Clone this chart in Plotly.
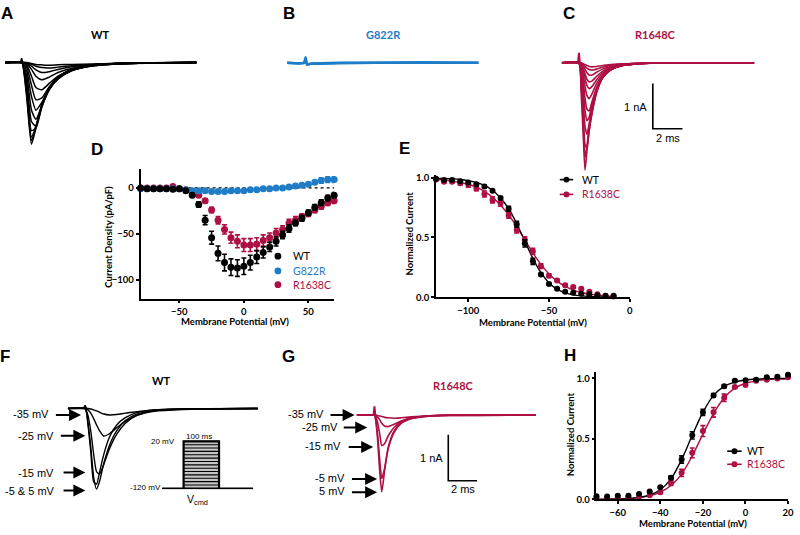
import plotly.graph_objects as go

# ======================= DATA =======================
# Panel A (WT current sweeps, nA vs ms)
a_time_ms = [0, 1.15, 1.3, 1.5, 1.8, 2.1, 2.5, 3.0, 3.6, 4.5, 6.0, 8.5, 13.0]
a_sweeps_nA = [
    [0, 0, -0.25, -0.85, -1.80, -1.45, -0.95, -0.55, -0.32, -0.15, -0.05, -0.01, 0],
    [0, 0, -0.22, -0.78, -1.72, -1.42, -0.94, -0.55, -0.32, -0.15, -0.05, -0.01, 0],
    [0, 0, -0.19, -0.70, -1.64, -1.40, -0.94, -0.56, -0.33, -0.16, -0.05, -0.01, 0],
    [0, 0, -0.16, -0.58, -1.50, -1.45, -0.98, -0.58, -0.34, -0.16, -0.06, -0.01, 0],
    [0, 0, -0.12, -0.45, -1.30, -1.40, -0.98, -0.60, -0.35, -0.17, -0.06, -0.01, 0],
    [0, 0, -0.09, -0.33, -1.05, -1.25, -0.95, -0.60, -0.36, -0.18, -0.06, -0.01, 0],
    [0, 0, -0.06, -0.21, -0.75, -1.05, -0.88, -0.58, -0.36, -0.18, -0.07, -0.02, 0],
    [0, 0, -0.04, -0.12, -0.50, -0.82, -0.78, -0.54, -0.34, -0.18, -0.07, -0.02, 0],
    [0, 0, -0.02, -0.07, -0.30, -0.55, -0.60, -0.46, -0.30, -0.16, -0.07, -0.02, 0],
    [0, 0, -0.01, -0.04, -0.15, -0.30, -0.38, -0.32, -0.22, -0.13, -0.06, -0.02, 0],
    [0, 0, 0, -0.02, -0.08, -0.16, -0.22, -0.20, -0.15, -0.09, -0.05, -0.02, 0],
    [0, 0, 0, -0.01, -0.04, -0.08, -0.11, -0.12, -0.10, -0.07, -0.04, -0.01, 0],
    [0, 0, 0, 0, -0.02, -0.04, -0.05, -0.06, -0.05, -0.04, -0.03, -0.01, 0],
]
a_artifact_ms = [1.05, 1.13, 1.21]
a_artifact_nA = [0, 0.10, 0]

# Panel B (G822R sweeps)
b_time_ms = [0, 1.15, 1.25, 1.35, 1.6, 2.2, 3.5, 6.0, 9.0, 13.0]
b_sweeps_nA = [
    [0, 0, 0.12, -0.04, -0.02, -0.01, 0, 0, 0, 0],
    [0, 0, 0.07, -0.03, -0.02, -0.02, -0.01, 0, 0.01, 0],
]

# Panel C (R1648C sweeps)
c_time_ms = [0, 1.15, 1.3, 1.45, 1.57, 1.7, 1.85, 2.05, 2.35, 2.75, 3.3, 4.1, 5.2, 7.0, 13.0]
c_sweeps_nA = [
    [0, 0, -0.60, -1.60, -2.37, -1.95, -1.50, -1.10, -0.65, -0.33, -0.15, -0.06, -0.02, 0, 0],
    [0, 0, -0.45, -1.35, -2.09, -1.85, -1.42, -1.05, -0.63, -0.33, -0.15, -0.06, -0.02, 0, 0],
    [0, 0, -0.35, -1.10, -1.80, -1.88, -1.50, -1.10, -0.66, -0.34, -0.16, -0.06, -0.02, 0, 0],
    [0, 0, -0.25, -0.85, -1.40, -1.58, -1.35, -1.00, -0.62, -0.33, -0.16, -0.06, -0.02, 0, 0],
    [0, 0, -0.18, -0.60, -1.05, -1.28, -1.20, -0.92, -0.58, -0.32, -0.15, -0.06, -0.02, 0, 0],
    [0, 0, -0.12, -0.42, -0.78, -1.02, -1.06, -0.85, -0.55, -0.31, -0.15, -0.06, -0.02, 0, 0],
    [0, 0, -0.08, -0.28, -0.52, -0.72, -0.79, -0.68, -0.46, -0.27, -0.13, -0.05, -0.02, 0, 0],
    [0, 0, -0.05, -0.18, -0.34, -0.50, -0.57, -0.52, -0.38, -0.23, -0.12, -0.05, -0.02, 0, 0],
    [0, 0, -0.03, -0.12, -0.24, -0.36, -0.42, -0.40, -0.30, -0.19, -0.10, -0.04, -0.01, 0, 0],
    [0, 0, -0.02, -0.07, -0.14, -0.22, -0.27, -0.27, -0.21, -0.14, -0.08, -0.03, -0.01, 0, 0],
    [0, 0, -0.01, -0.04, -0.08, -0.12, -0.15, -0.16, -0.14, -0.10, -0.06, -0.03, -0.01, 0, 0],
    [0, 0, 0, -0.02, -0.04, -0.06, -0.08, -0.09, -0.08, -0.06, -0.04, -0.02, -0.01, 0, 0],
]
c_artifact_ms = [1.10, 1.16, 1.22]
c_artifact_nA = [0, 0.22, 0]

scalebar_nA = 1
scalebar_ms = 2

# Panel D: I-V relationship (pA/pF)
d_voltage_mV = [-80, -75, -70, -65, -60, -55, -50, -45, -40, -35, -30, -25, -20, -15, -10, -5,
                0, 5, 10, 15, 20, 25, 30, 35, 40, 45, 50, 55, 60, 65, 70]
d_wt = [0, -1, -1, -1, -1, -1.5, -1, -3, -8, -18, -35, -54, -71, -81, -86, -87,
        -85, -81, -75, -70, -64, -58, -51, -44, -38, -33, -27, -21, -16, -11, -8]
d_wt_sem = [0, 0, 0, 0, 0, 0, 0, 1, 2, 3, 5, 7, 8, 9, 9, 9,
            9, 8, 7, 6, 5, 5, 4, 4, 3, 3, 3, 3, 3, 3, 3]
d_g822r = [-1, -1, -1, -1, -1, -1, -1, -2, -3, -3, -3, -4, -4, -4, -3, -3,
           -3, -2, -2, -1, -1, 0, 0, 1, 2, 3, 4, 6, 8, 9, 9]
d_g822r_sem = [0, 0, 0, 0, 0, 0, 0, 0, 0, 0, 0, 0, 0, 0, 0, 0,
               0, 0, 0, 0, 0, 0, 0, 0, 1, 1, 1, 2, 3, 3, 3]
d_r1638c = [0, 0, 0, 0, 0, 1.5, -1, -2, -4, -8, -14, -24, -35, -45, -54, -58,
            -62, -62, -61, -57, -54, -49, -45, -38, -35, -31, -28, -24, -20, -16, -14]
d_r1638c_sem = [0, 0, 0, 0, 0, 0, 0, 0, 1, 2, 2, 3, 4, 5, 6, 7,
                7, 7, 7, 6, 5, 5, 4, 4, 4, 3, 3, 3, 3, 3, 3]

# Panel E: steady-state inactivation
e_voltage_mV = [-120, -115, -110, -105, -100, -95, -90, -85, -80, -75, -70, -65, -60, -55,
                -50, -45, -40, -35, -30, -25, -20, -15, -10]
e_wt = [0.99, 0.98, 0.98, 0.97, 0.96, 0.945, 0.925, 0.89, 0.83, 0.74, 0.61, 0.45, 0.30, 0.19,
        0.11, 0.07, 0.045, 0.037, 0.03, 0.025, 0.016, 0.013, 0.012]
e_wt_sem = [0.005, 0.005, 0.005, 0.005, 0.005, 0.01, 0.01, 0.01, 0.01, 0.02, 0.025, 0.03, 0.025, 0.01,
            0.01, 0.005, 0.005, 0.005, 0.005, 0.005, 0.005, 0.005, 0.005]
e_wt_fit = [0.995, 0.993, 0.99, 0.985, 0.975, 0.96, 0.935, 0.895, 0.83, 0.74, 0.615, 0.47, 0.325, 0.205,
            0.12, 0.068, 0.037, 0.02, 0.011, 0.006, 0.003, 0.002, 0.001]
e_r1638c = [0.985, 0.965, 0.965, 0.953, 0.94, 0.91, 0.863, 0.814, 0.787, 0.686, 0.563, 0.48, 0.385, 0.26,
            0.18, 0.14, 0.10, 0.085, 0.07, 0.045, 0.025, 0.01, 0.006]
e_r1638c_sem = [0.01, 0.01, 0.01, 0.015, 0.02, 0.02, 0.025, 0.025, 0.025, 0.025, 0.025, 0.025, 0.025, 0.02,
                0.015, 0.01, 0.01, 0.01, 0.01, 0.005, 0.005, 0.005, 0.005]
e_r1638c_fit = [0.985, 0.98, 0.97, 0.96, 0.945, 0.92, 0.885, 0.835, 0.77, 0.69, 0.59, 0.48, 0.37, 0.275,
                0.195, 0.135, 0.09, 0.06, 0.04, 0.026, 0.017, 0.011, 0.007]

# Panel F: WT example sweeps
f_time_ms = [0, 1.2, 1.4, 1.6, 1.8, 2.0, 2.2, 2.5, 2.9, 3.4, 4.0, 4.8, 6.0, 8.0, 13.2]
f_sweep_labels = ["-35 mV", "-25 mV", "-15 mV", "-5 & 5 mV"]
f_sweeps_nA = [
    [0, 0, 0, -0.01, -0.03, -0.05, -0.08, -0.12, -0.14, -0.13, -0.10, -0.07, -0.03, -0.01, 0],
    [0, 0, -0.03, -0.10, -0.22, -0.36, -0.48, -0.60, -0.55, -0.42, -0.28, -0.15, -0.06, -0.02, 0],
    [0, 0, -0.15, -0.50, -1.00, -1.38, -1.43, -1.22, -0.88, -0.56, -0.32, -0.15, -0.05, -0.01, 0],
    [0, 0, -0.30, -0.85, -1.50, -1.76, -1.60, -1.20, -0.80, -0.48, -0.26, -0.12, -0.04, -0.01, 0],
    [0, 0, -0.35, -0.95, -1.60, -1.65, -1.40, -1.00, -0.62, -0.36, -0.20, -0.09, -0.03, -0.01, 0],
]
f_artifact_ms = [1.10, 1.20, 1.30]
f_artifact_nA = [0, 0.07, 0]

# Voltage protocol inset (F)
protocol_hold_mV = -120
protocol_levels_mV = [-110, -100, -90, -80, -70, -60, -50, -40, -30, -20, -10, 0, 10, 20]
protocol_step_ms = 100
protocol_start_ms = -61
protocol_end_ms = 196

# Panel G: R1648C example sweeps
g_time_ms = [0, 1.15, 1.24, 1.32, 1.45, 1.6, 1.75, 1.95, 2.2, 2.6, 3.1, 3.8, 4.8, 6.5, 12.5]
g_sweep_labels = ["-35 mV", "-25 mV", "-15 mV", "-5 mV", "5 mV"]
g_sweeps_nA = [
    [0, 0, 0, 0, -0.01, -0.02, -0.03, -0.05, -0.06, -0.07, -0.06, -0.04, -0.02, -0.01, 0],
    [0, 0, 0, -0.01, -0.04, -0.10, -0.18, -0.24, -0.25, -0.20, -0.13, -0.07, -0.03, -0.01, 0],
    [0, 0, 0, -0.03, -0.15, -0.40, -0.66, -0.62, -0.45, -0.27, -0.14, -0.06, -0.02, 0, 0],
    [0, 0, 0, -0.08, -0.40, -0.95, -1.38, -1.15, -0.72, -0.38, -0.18, -0.08, -0.03, 0, 0],
    [0, 0, 0, -0.10, -0.50, -1.20, -1.67, -1.20, -0.70, -0.35, -0.16, -0.07, -0.02, 0, 0],
]
g_artifact_ms = [1.18, 1.24, 1.30]
g_artifact_nA = [0, 0.19, 0]

# Panel H: activation
h_voltage_mV = [-70, -65, -60, -55, -50, -45, -40, -35, -30, -25, -20, -15, -10, -5, 0, 5, 10, 15, 20]
h_wt = [0.027, 0.025, 0.03, 0.03, 0.046, 0.065, 0.10, 0.18, 0.33, 0.53, 0.72, 0.86, 0.935, 0.98,
        0.985, 0.99, 1.01, 1.015, 1.03]
h_wt_sem = [0, 0, 0, 0, 0, 0, 0.01, 0.015, 0.03, 0.03, 0.025, 0.015, 0.01, 0.01, 0.01, 0.005, 0.005, 0.005, 0.005]
h_wt_fit = [0.001, 0.002, 0.004, 0.008, 0.017, 0.037, 0.08, 0.17, 0.33, 0.53, 0.72, 0.86, 0.935, 0.97,
            0.987, 0.995, 0.998, 0.999, 1.0]
h_r1638c = [0.01, 0.01, 0.01, 0.015, 0.02, 0.035, 0.06, 0.135, 0.22, 0.385, 0.565, 0.72, 0.84, 0.93,
            0.945, 0.98, 0.99, 1.0, 1.01]
h_r1638c_sem = [0, 0, 0, 0, 0, 0, 0.01, 0.02, 0.03, 0.04, 0.045, 0.04, 0.03, 0.01, 0.01, 0.005, 0.005, 0.005, 0.005]
h_r1638c_fit = [0.001, 0.002, 0.003, 0.006, 0.015, 0.03, 0.06, 0.115, 0.21, 0.36, 0.54, 0.71, 0.84, 0.92,
                0.96, 0.98, 0.99, 0.995, 0.998]

# ======================= STYLE / LAYOUT HELPERS =======================
W, H = 800, 535
BLACK = "#000000"
BLUE = "#1f7cc6"
RED = "#ad1042"


def fx(p):
    return p / W


def fy(p):
    return 1 - p / H


def akey(prefix, n):
    return prefix if n == 1 else f"{prefix}{n}"


def aref(letter, n):
    return letter if n == 1 else f"{letter}{n}"


fig = go.Figure()
layout_axes = {}


def trace_axis(n, xpx0, xpx1, ypx0, ypx1, base_px, ms_px, nA_px, t0=0.0):
    layout_axes[akey("xaxis", n)] = dict(
        domain=[fx(xpx0), fx(xpx1)], range=[t0, t0 + (xpx1 - xpx0) / ms_px],
        visible=False, anchor=aref("y", n), fixedrange=True)
    layout_axes[akey("yaxis", n)] = dict(
        domain=[fy(ypx1), fy(ypx0)],
        range=[-(ypx1 - base_px) / nA_px, (base_px - ypx0) / nA_px],
        visible=False, anchor=aref("x", n), fixedrange=True)


TICKFONT = dict(family="Lato", size=9.5, color=BLACK, weight="bold")


def plot_axis(n, xpx0, xpx1, ypx0, ypx1, xr, yr, xt, yt, yfmt=None):
    layout_axes[akey("xaxis", n)] = dict(
        domain=[fx(xpx0), fx(xpx1)], range=xr, anchor=aref("y", n),
        showline=True, linecolor=BLACK, linewidth=1.8, ticks="outside", ticklen=3,
        tickwidth=1.5, tickcolor=BLACK, tickvals=xt, tickfont=TICKFONT,
        showgrid=False, zeroline=False, fixedrange=True)
    ya = dict(
        domain=[fy(ypx1), fy(ypx0)], range=yr, anchor=aref("x", n),
        showline=True, linecolor=BLACK, linewidth=1.8, ticks="outside", ticklen=3,
        tickwidth=1.5, tickcolor=BLACK, tickvals=yt, tickfont=TICKFONT,
        showgrid=False, zeroline=False, fixedrange=True)
    if yfmt:
        ya["tickformat"] = yfmt
    layout_axes[akey("yaxis", n)] = ya


def add_sweeps(n, times, sweeps, color, width, smooth=0.6):
    for s in sweeps:
        fig.add_trace(go.Scatter(
            x=times, y=s, xaxis=aref("x", n), yaxis=aref("y", n), mode="lines",
            line=dict(color=color, width=width, shape="spline", smoothing=smooth),
            cliponaxis=False, showlegend=False, hoverinfo="skip"))


def add_line(n, xs, ys, color, width, dash=None, shape="linear"):
    fig.add_trace(go.Scatter(
        x=xs, y=ys, xaxis=aref("x", n), yaxis=aref("y", n), mode="lines",
        line=dict(color=color, width=width, dash=dash, shape=shape),
        cliponaxis=False, showlegend=False, hoverinfo="skip"))


def add_points(n, xs, ys, err, color, size):
    fig.add_trace(go.Scatter(
        x=xs, y=ys, xaxis=aref("x", n), yaxis=aref("y", n), mode="markers",
        marker=dict(color=color, size=size, line=dict(width=0)),
        error_y=dict(type="data", array=err, color=color, thickness=1.6, width=2.5),
        cliponaxis=False, showlegend=False))


def add_scalebar(n, t0, i0):
    add_line(n, [t0, t0, t0 + scalebar_ms], [i0 + scalebar_nA, i0, i0], BLACK, 1.6)


# ---------- axes geometry ----------
trace_axis(1, 5, 198, 45, 152, 60.5, 14.85, 46)        # A
trace_axis(2, 289.3, 482.3, 45, 152, 60.7, 14.85, 46)  # B
trace_axis(3, 566, 760, 40, 180, 60.7, 14.92, 46)      # C
plot_axis(4, 141.7, 336.7, 169, 300, [-80, 70], [-120, 20], [-50, 0, 50], [-100, -50, 0])  # D
plot_axis(5, 439.3, 634.5, 175, 298.7, [-120, 0], [0, 1.019], [-100, -50, 0], [0, 0.5, 1.0], ".1f")  # E
trace_axis(6, 68.3, 260, 400, 505, 411.7, 14.5, 46.5)  # F
# protocol inset (F) : x in ms, y in mV
layout_axes["xaxis7"] = dict(domain=[fx(160), fx(258)], range=[-70, 204.5], visible=False,
                             anchor="y7", fixedrange=True)
layout_axes["yaxis7"] = dict(domain=[fy(494), fy(440)], range=[-123.8, 34.68], visible=False,
                             anchor="x7", fixedrange=True)
trace_axis(8, 359.3, 540, 400, 505, 418.3, 14.5, 46.7)  # G
plot_axis(9, 601, 794, 375, 504, [-70, 20], [0, 1.05], [-60, -40, -20, 0, 20], [0, 0.5, 1.0], ".1f")  # H

# ---------- A ----------
add_sweeps(1, a_time_ms, a_sweeps_nA, BLACK, 1.5)
add_line(1, a_artifact_ms, a_artifact_nA, BLACK, 1.5)
# ---------- B ----------
add_sweeps(2, b_time_ms, b_sweeps_nA, BLUE, 2.6)
# ---------- C ----------
add_sweeps(3, c_time_ms, c_sweeps_nA, RED, 1.6)
add_line(3, c_artifact_ms, c_artifact_nA, RED, 2)
add_scalebar(3, 6.15, -1.457)

# ---------- D ----------
add_line(4, [d_voltage_mV[0], d_voltage_mV[-1]], [0, 0], BLACK, 1.2, dash="dot")
add_points(4, d_voltage_mV, d_r1638c, d_r1638c_sem, RED, 7)
add_points(4, d_voltage_mV, d_g822r, d_g822r_sem, BLUE, 7)
add_points(4, d_voltage_mV, d_wt, d_wt_sem, BLACK, 7)

# ---------- E ----------
add_line(5, e_voltage_mV, e_r1638c_fit, RED, 1.4, shape="spline")
add_line(5, e_voltage_mV, e_wt_fit, BLACK, 1.4, shape="spline")
add_points(5, e_voltage_mV, e_r1638c, e_r1638c_sem, RED, 6)
add_points(5, e_voltage_mV, e_wt, e_wt_sem, BLACK, 6)

# ---------- F ----------
add_sweeps(6, f_time_ms, f_sweeps_nA, BLACK, 1.4)
add_line(6, f_artifact_ms, f_artifact_nA, BLACK, 1.5)
# protocol
fig.add_trace(go.Scatter(
    x=[0, protocol_step_ms, protocol_step_ms, 0, 0],
    y=[protocol_hold_mV, protocol_hold_mV, protocol_levels_mV[-1], protocol_levels_mV[-1], protocol_hold_mV],
    xaxis="x7", yaxis="y7", mode="lines", fill="toself", fillcolor="#c4c4c4",
    line=dict(width=0), showlegend=False, hoverinfo="skip"))
for lvl in protocol_levels_mV:
    add_line(7, [0, protocol_step_ms], [lvl, lvl], BLACK, 1.1)
add_line(7, [protocol_start_ms, protocol_end_ms], [protocol_hold_mV, protocol_hold_mV], BLACK, 1.8)
add_line(7, [0, 0, protocol_step_ms, protocol_step_ms],
         [protocol_hold_mV, protocol_levels_mV[-1], protocol_levels_mV[-1], protocol_hold_mV], BLACK, 2.2)

# ---------- G ----------
add_sweeps(8, g_time_ms, g_sweeps_nA, RED, 1.6)
add_line(8, g_artifact_ms, g_artifact_nA, RED, 2)
add_scalebar(8, 6.37, -1.428)

# ---------- H ----------
add_line(9, h_voltage_mV, h_r1638c_fit, RED, 1.4, shape="spline")
add_line(9, h_voltage_mV, h_wt_fit, BLACK, 1.4, shape="spline")
add_points(9, h_voltage_mV, h_r1638c, h_r1638c_sem, RED, 6)
add_points(9, h_voltage_mV, h_wt, h_wt_sem, BLACK, 6)

# ======================= ANNOTATIONS =======================
ann = []


def txt(x, y, s, size=11, color=BLACK, family="Liberation Sans", bold=False,
        xanchor="center", yanchor="middle", angle=0):
    ann.append(dict(x=fx(x), y=fy(y), xref="paper", yref="paper", text=s, showarrow=False,
                    font=dict(family=family, size=size, color=color,
                              weight="bold" if bold else "normal"),
                    xanchor=xanchor, yanchor=yanchor, textangle=angle, borderpad=0))


def arrow(x_tip, y_tip, x_tail):
    ann.append(dict(x=fx(x_tip), y=fy(y_tip), xref="paper", yref="paper", text="",
                    showarrow=True, ax=x_tail - x_tip, ay=0, arrowhead=2, arrowsize=1.2,
                    arrowwidth=2, arrowcolor=BLACK, standoff=0, startstandoff=0))


# panel letters
for letter, (lx, ly) in {"A": (7, 11), "B": (291, 11), "C": (573, 11), "D": (98, 149),
                         "E": (408, 148), "F": (5, 359), "G": (291, 359), "H": (574, 358)}.items():
    txt(lx, ly, letter, size=17, bold=True)

# panel titles
txt(101.7, 31.7, "WT", size=11, bold=True, family="Lato")
txt(386.7, 31.7, "G822R", size=11, bold=True, family="Lato", color=BLUE)
txt(660, 31.7, "R1648C", size=11, bold=True, family="Lato", color=RED)
txt(163, 383, "WT", size=11, bold=True, family="Lato")
txt(456.7, 388.3, "R1648C", size=11, bold=True, family="Lato", color=RED)

# scale bar labels
txt(653, 106, "1 nA", xanchor="right")
txt(673, 137, "2 ms")
txt(447, 462.3, "1 nA", xanchor="right")
txt(467, 493, "2 ms")

# axis titles
AXF = dict(size=9.5, bold=True, family="Lato")
txt(237, 323, "Membrane Potential (mV)", **AXF)
txt(109, 237, "Current Density (pA/pF)", angle=-90, **AXF)
txt(537.5, 324, "Membrane Potential (mV)", **AXF)
txt(413, 234, "Normalized Current", angle=-90, **AXF)
txt(698.5, 528, "Membrane Potential (mV)", **AXF)
txt(575, 438, "Normalized Current", angle=-90, **AXF)

# F labels + arrows
f_label_pos = [(50, 417, 55, 81.7, 418.3), (55, 439.3, 60, 86, 439.3),
               (55, 476.7, 62.7, 86, 476.7), (56.7, 495, 62.7, 86, 495)]
for lab, (tx, ty, a0, a1, ay) in zip(f_sweep_labels, f_label_pos):
    txt(tx, ty, lab, xanchor="right")
    arrow(a1, ay, a0)

# G labels + arrows
g_label_pos = [(327, 417.7, 331.7, 357.3, 418.3), (342, 430, 345, 370, 431),
               (345, 450, 350, 376, 450.7), (349, 482.3, 353.3, 380, 483.3),
               (349, 495.7, 353.3, 380, 496.7)]
for lab, (tx, ty, a0, a1, ay) in zip(g_sweep_labels, g_label_pos):
    txt(tx, ty, lab, xanchor="right")
    arrow(a1, ay, a0)

# protocol labels
txt(177, 445, "20 mV", size=8, xanchor="right")
txt(201, 440.5, "100 ms", size=8)
txt(163, 492, "-120 mV", size=8, xanchor="right")
txt(199, 505, "V<sub>cmd</sub>", size=10.5)

# manual legends
shapes = []


def dot(cx, cy, r, color):
    shapes.append(dict(type="circle", xref="paper", yref="paper",
                       x0=fx(cx - r), x1=fx(cx + r), y0=fy(cy + r), y1=fy(cy - r),
                       fillcolor=color, line=dict(width=0)))


def seg(x0, x1, y, color):
    shapes.append(dict(type="line", xref="paper", yref="paper", x0=fx(x0), x1=fx(x1),
                       y0=fy(y), y1=fy(y), line=dict(color=color, width=1.6)))


LEGF = dict(size=10.5, family="Lato", xanchor="left")
for name, color, yy in [("WT", BLACK, 257), ("G822R", BLUE, 272), ("R1638C", RED, 286)]:
    dot(280, yy, 3.4, color)
    txt(294, yy, name, color=color, **LEGF)
for name, color, yy in [("WT", BLACK, 179.3), ("R1638C", RED, 194.3)]:
    seg(564, 577.5, yy, color)
    dot(570.7, yy, 3, color)
    txt(585, yy, name, color=color, **LEGF)
for name, color, yy in [("WT", BLACK, 455), ("R1638C", RED, 468.3)]:
    seg(732.7, 747.3, yy, color)
    dot(740, yy, 3, color)
    txt(752, yy, name, color=color, **LEGF)

fig.update_layout(
    width=W, height=H, margin=dict(l=0, r=0, t=0, b=0),
    paper_bgcolor="white", plot_bgcolor="white", showlegend=False,
    annotations=ann, shapes=shapes, **layout_axes)

fig.write_html("out.html", config={"displayModeBar": False},
               post_script="document.body.style.margin='0';document.body.style.overflow='hidden';")
